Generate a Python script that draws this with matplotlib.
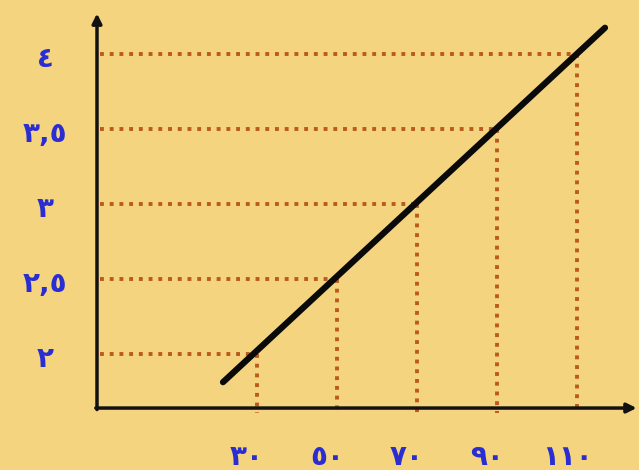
import matplotlib.pyplot as plt

# values marked on the graph
x_vals = [30, 50, 70, 90, 110]
y_vals = [2, 2.5, 3, 3.5, 4]
x_labels = ['٣٠', '٥٠', '٧٠', '٩٠', '١١٠']
y_labels = ['٢', '٢,٥', '٣', '٣,٥', '٤']

# ends of the straight line
line_x = [21.5, 117]
line_y = [1.8125, 4.175]

bg = '#f5d47f'
dot_c = '#bb5a1f'
lab_c = '#2a2ed2'

fig = plt.figure(figsize=(6.39, 4.70), dpi=100)
fig.patch.set_facecolor(bg)
ax = fig.add_axes([0, 0, 1, 1])
ax.set_facecolor(bg)
ax.set_xlim(-34.25, 125.5)
ax.set_ylim(1.227, 4.36)
ax.axis('off')

x0, y0 = -10, 1.64   # origin of drawn axes

# dotted guide lines
for xv, yv in zip(x_vals, y_vals):
    ax.plot([-9.2, xv], [yv, yv], ls=(0, (1, 1.5)), lw=2.8, color=dot_c,
            dash_capstyle='butt', zorder=2)
    ax.plot([xv, xv], [yv, y0 - 0.03], ls=(0, (1, 1.5)), lw=2.8, color=dot_c,
            dash_capstyle='butt', zorder=2)

# axes with arrow heads
ax.annotate('', xy=(x0, 4.27), xytext=(x0, y0 - 0.01),
            arrowprops=dict(arrowstyle='-|>', lw=2.5, color='#111111',
                            mutation_scale=14, shrinkA=0, shrinkB=0), zorder=4)
ax.annotate('', xy=(124.9, y0), xytext=(x0 - 0.3, y0),
            arrowprops=dict(arrowstyle='-|>', lw=2.5, color='#111111',
                            mutation_scale=14, shrinkA=0, shrinkB=0), zorder=4)

# the line itself
ax.plot(line_x, line_y, color='#0a0a0a', lw=4.5, solid_capstyle='round', zorder=5)

for xv, lab in zip(x_vals, x_labels):
    ax.text(xv - 2.5, 1.313, lab, color=lab_c, fontsize=20, fontweight='bold',
            ha='center', va='center', family='DejaVu Sans')
for yv, lab in zip(y_vals, y_labels):
    ax.text(-23, yv - 0.03, lab, color=lab_c, fontsize=20, fontweight='bold',
            ha='center', va='center', family='DejaVu Sans')

fig.savefig('out.png', dpi=100, facecolor=bg)
